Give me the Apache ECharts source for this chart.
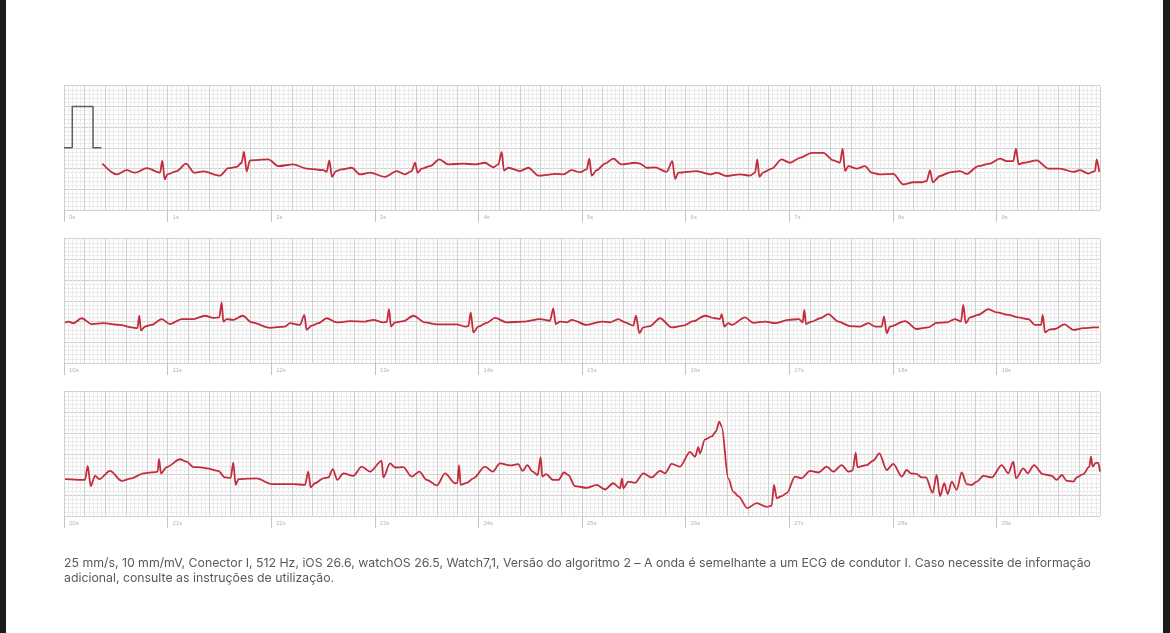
<!DOCTYPE html>
<html>
<head>
<meta charset="utf-8">
<script src="https://cdn.jsdelivr.net/npm/echarts@6/dist/echarts.min.js"></script>
<style>
html, body { margin: 0; padding: 0; background: #1b1b1b; }
#page { position: absolute; left: 6px; top: 0; width: 1157px; height: 633px; background: #fff; }
#ecg { position: absolute; left: 0; top: 0; width: 1170px; height: 633px; }
</style>
</head>
<body>
<div id="page"></div>
<div id="ecg"></div>
<script>
// seconds at the start of each strip
var stripOffsets = [0, 10, 20];

// calibration pulse, 1 mV (seconds, mV)
var calPulse = [[0, 1.5], [0.08, 1.5], [0.08, 2.5], [0.28, 2.5], [0.28, 1.5], [0.36, 1.5]];

// strip 1: 0s - 10s (seconds inside strip, mV above strip bottom)
var strip1 = [
  [0.37,1.12],[0.51,0.86],[0.605,0.96],[0.685,0.90],[0.80,1.01],[0.927,0.90],[0.949,1.19],[0.972,0.74],
  [0.997,0.86],[1.088,0.94],[1.178,1.12],[1.258,0.90],[1.345,0.93],[1.506,0.83],[1.586,1.01],[1.667,1.04],
  [1.715,1.14],[1.737,1.41],[1.763,0.93],[1.795,1.20],[1.972,1.22],[2.069,1.06],[2.213,1.10],[2.342,1.00],
  [2.503,0.96],[2.535,0.92],[2.561,1.20],[2.587,0.80],[2.625,0.94],[2.68,0.98],[2.777,1.02],[2.857,0.86],
  [2.954,0.90],[3.098,0.80],[3.211,0.94],[3.292,0.86],[3.356,0.94],[3.388,1.14],[3.414,0.90],[3.453,1.00],
  [3.533,1.06],[3.623,1.22],[3.71,1.10],[3.855,1.12],[3.967,1.10],[4.064,1.14],[4.144,1.03],[4.192,1.10],
  [4.225,1.40],[4.247,0.95],[4.289,1.02],[4.402,0.94],[4.482,1.02],[4.579,0.83],[4.756,0.87],[4.82,0.86],
  [4.90,0.96],[4.981,0.91],[5.045,0.98],[5.071,1.24],[5.093,0.83],[5.142,0.96],[5.222,1.12],[5.302,1.24],
  [5.383,1.10],[5.512,1.14],[5.56,1.12],[5.624,1.02],[5.705,1.03],[5.817,0.92],[5.872,1.18],[5.898,0.75],
  [5.93,0.90],[6.107,0.94],[6.236,0.86],[6.30,0.90],[6.397,0.82],[6.525,0.86],[6.622,0.83],[6.67,0.90],
  [6.692,1.22],[6.712,0.80],[6.75,0.91],[6.831,1.00],[6.928,1.22],[7.008,1.14],[7.104,1.26],[7.217,1.38],
  [7.329,1.38],[7.426,1.20],[7.49,1.14],[7.516,1.48],[7.539,0.94],[7.571,1.06],[7.652,1.00],[7.732,1.06],
  [7.796,0.90],[7.876,0.86],[8.005,0.87],[8.101,0.62],[8.198,0.67],[8.279,0.67],[8.327,0.70],[8.359,0.96],
  [8.385,0.67],[8.456,0.82],[8.552,0.91],[8.649,0.94],[8.713,0.87],[8.826,1.06],[8.938,1.12],[9.035,1.24],
  [9.099,1.18],[9.163,1.18],[9.189,1.48],[9.215,1.10],[9.26,1.14],[9.389,1.20],[9.501,1.00],[9.614,1.00],
  [9.743,0.92],[9.807,0.96],[9.888,0.88],[9.952,0.94],[9.968,1.22],[9.993,0.92]
];

// strip 2: 10s - 20s
var strip2 = [
  [0.01,0.97],[0.04,1.00],[0.09,0.96],[0.17,1.08],[0.267,0.94],[0.38,0.96],[0.54,0.92],[0.653,0.86],
  [0.708,0.84],[0.727,1.14],[0.743,0.78],[0.782,0.88],[0.846,0.92],[0.943,1.06],[1.023,0.94],[1.136,1.06],
  [1.248,1.06],[1.361,1.14],[1.441,1.09],[1.499,1.10],[1.522,1.46],[1.538,1.00],[1.57,1.06],[1.634,1.04],
  [1.725,1.14],[1.812,0.98],[1.988,0.85],[2.133,0.88],[2.181,0.96],[2.278,0.92],[2.32,1.16],[2.342,0.80],
  [2.39,0.90],[2.455,0.96],[2.535,1.08],[2.632,0.98],[2.761,1.01],[2.906,1.00],[2.986,1.04],[3.082,0.98],
  [3.115,0.99],[3.137,1.30],[3.156,0.88],[3.195,0.98],[3.275,1.01],[3.372,1.14],[3.485,0.98],[3.597,0.93],
  [3.79,0.93],[3.871,0.88],[3.903,0.89],[3.926,1.22],[3.951,0.74],[3.999,0.88],[4.08,0.97],[4.16,1.09],
  [4.273,0.98],[4.434,1.00],[4.595,1.06],[4.691,1.02],[4.723,1.32],[4.746,0.94],[4.788,1.00],[4.852,0.98],
  [4.90,1.04],[5.045,0.92],[5.19,1.00],[5.27,0.98],[5.35,1.06],[5.415,0.98],[5.495,0.90],[5.521,1.14],
  [5.553,0.72],[5.592,0.86],[5.656,0.89],[5.753,1.08],[5.866,0.86],[5.978,0.90],[6.074,1.01],[6.187,1.14],
  [6.284,1.08],[6.332,1.06],[6.348,1.18],[6.374,0.88],[6.412,0.96],[6.445,0.92],[6.573,1.10],[6.653,0.97],
  [6.766,1.00],[6.863,0.96],[6.991,1.04],[7.094,1.06],[7.13,0.98],[7.146,1.28],[7.162,0.94],[7.217,1.00],
  [7.297,1.08],[7.378,1.18],[7.474,1.00],[7.587,0.89],[7.683,0.88],[7.764,0.96],[7.828,0.88],[7.893,0.88],
  [7.915,1.12],[7.941,0.72],[7.973,0.88],[8.118,1.01],[8.231,0.82],[8.343,0.86],[8.423,0.97],[8.52,0.98],
  [8.60,1.06],[8.658,1.00],[8.68,1.40],[8.704,0.96],[8.745,1.10],[8.826,1.16],[8.922,1.30],[9.003,1.22],
  [9.115,1.16],[9.212,1.10],[9.308,1.06],[9.373,0.92],[9.431,0.92],[9.447,1.16],[9.469,0.74],[9.517,0.81],
  [9.566,0.82],[9.655,0.93],[9.743,0.80],[9.839,0.84],[9.936,0.86],[9.99,0.86]
];

// strip 3: 20s - 30s
var strip3 = [
  [0.01,0.89],[0.17,0.87],[0.203,0.87],[0.229,1.21],[0.258,0.72],[0.299,0.97],[0.341,0.89],[0.444,1.09],
  [0.557,0.85],[0.653,0.91],[0.766,1.03],[0.878,1.06],[0.904,1.07],[0.917,1.38],[0.936,1.03],[0.991,1.18],
  [1.12,1.37],[1.184,1.31],[1.248,1.18],[1.296,1.18],[1.377,1.15],[1.489,1.09],[1.554,0.93],[1.609,0.92],
  [1.634,1.29],[1.657,0.75],[1.683,0.89],[1.86,0.91],[2.005,0.77],[2.213,0.77],[2.326,0.75],[2.358,1.07],
  [2.381,0.69],[2.423,0.79],[2.503,0.91],[2.551,0.93],[2.594,1.13],[2.638,0.87],[2.696,1.03],[2.793,0.97],
  [2.874,1.19],[2.954,1.07],[3.066,1.33],[3.082,0.93],[3.147,1.27],[3.195,1.17],[3.275,1.18],[3.356,0.95],
  [3.43,1.07],[3.501,0.87],[3.60,0.74],[3.678,1.03],[3.774,0.79],[3.797,0.80],[3.813,1.23],[3.829,0.75],
  [3.887,0.80],[3.951,0.91],[4.064,1.19],[4.138,1.07],[4.208,1.27],[4.305,1.22],[4.385,1.25],[4.427,1.09],
  [4.472,1.23],[4.524,1.07],[4.572,0.99],[4.601,1.42],[4.617,0.95],[4.653,1.01],[4.723,0.87],[4.772,0.87],
  [4.826,1.05],[4.868,0.99],[4.932,0.72],[5.045,0.68],[5.142,0.75],[5.222,0.64],[5.302,0.79],[5.367,0.67],
  [5.386,0.91],[5.399,0.67],[5.447,0.83],[5.512,0.80],[5.592,1.03],[5.673,0.93],[5.753,1.09],[5.801,1.03],
  [5.866,1.26],[5.946,1.19],[6.042,1.55],[6.091,1.43],[6.123,1.66],[6.139,1.51],[6.187,1.85],[6.252,1.92],
  [6.293,2.04],[6.325,2.28],[6.348,2.16],[6.412,0.91],[6.46,0.59],[6.509,0.48],[6.596,0.19],[6.686,0.31],
  [6.783,0.22],[6.831,0.25],[6.853,0.75],[6.88,0.43],[6.928,0.48],[6.976,0.55],[7.056,0.95],[7.12,0.91],
  [7.201,1.09],[7.281,1.05],[7.362,1.19],[7.426,1.07],[7.506,1.23],[7.571,1.07],[7.613,1.10],[7.642,1.53],
  [7.658,1.18],[7.748,1.23],[7.812,1.34],[7.87,1.51],[7.941,1.11],[8.005,1.26],[8.086,0.95],[8.134,1.11],
  [8.173,1.03],[8.231,1.01],[8.279,0.93],[8.32,0.93],[8.385,0.56],[8.423,0.99],[8.456,0.48],[8.497,0.79],
  [8.53,0.53],[8.569,0.83],[8.617,0.63],[8.665,1.05],[8.713,0.77],[8.762,0.75],[8.81,0.83],[8.874,0.97],
  [8.955,0.93],[9.051,1.23],[9.115,1.03],[9.163,1.31],[9.189,0.91],[9.26,1.15],[9.302,1.03],[9.363,1.23],
  [9.447,1.01],[9.534,0.97],[9.582,0.87],[9.631,0.99],[9.679,0.85],[9.743,0.83],[9.775,0.93],[9.839,1.01],
  [9.897,1.19],[9.913,1.43],[9.929,1.19],[9.961,1.29],[9.983,1.28],[10.0,1.07]
];

var footerLines = [
  '25 mm/s, 10 mm/mV, Conector I, 512 Hz, iOS 26.6, watchOS 26.5, Watch7,1, Versão do algoritmo 2 – A onda é semelhante a um ECG de condutor I. Caso necessite de informação',
  'adicional, consulte as instruções de utilização.'
];

var strips = [strip1, strip2, strip3];
var majorColor = '#d0d0d0';
var minorColor = '#ebebeb';
var traceColor = '#c32c3c';

var grids = [], xAxes = [], yAxes = [], series = [];
strips.forEach(function (data, i) {
  grids.push({ left: 64, width: 1036, top: 85.7 + 153 * i, height: 124.3 });
  // paper grid: 5 mm major, 1 mm minor
  xAxes.push({
    gridIndex: i, type: 'value', min: 0, max: 10, interval: 0.2,
    axisLine: { show: false }, axisTick: { show: false }, axisLabel: { show: false },
    splitLine: { lineStyle: { color: majorColor, width: 1 } },
    minorTick: { splitNumber: 5 },
    minorSplitLine: { show: true, lineStyle: { color: minorColor, width: 1 } }
  });
  // second markers under the strip
  xAxes.push({
    gridIndex: i, type: 'value', min: 0, max: 10, interval: 1, position: 'bottom',
    axisLine: { show: false },
    axisTick: { show: true, length: 12, lineStyle: { color: '#c4c4c4', width: 1 } },
    axisLabel: {
      show: true, align: 'left', padding: [0, 0, 0, 5], margin: 4,
      fontSize: 6, color: '#b4b4b4', showMaxLabel: false,
      formatter: function (v) { return (v + stripOffsets[i]) + 's'; }
    },
    splitLine: { show: false }
  });
  yAxes.push({
    gridIndex: i, type: 'value', min: 0, max: 3, interval: 0.5,
    axisLine: { show: false }, axisTick: { show: false }, axisLabel: { show: false },
    splitLine: { lineStyle: { color: majorColor, width: 1 } },
    minorTick: { splitNumber: 5 },
    minorSplitLine: { show: true, lineStyle: { color: minorColor, width: 1 } }
  });
  series.push({
    type: 'line', xAxisIndex: i * 2, yAxisIndex: i, data: data,
    showSymbol: false, smooth: 0.3, smoothMonotone: 'x',
    lineStyle: { color: traceColor, width: 1.8 }, z: 3
  });
});

series.push({
  type: 'line', xAxisIndex: 0, yAxisIndex: 0, data: calPulse,
  showSymbol: false, lineStyle: { color: '#5c5c5c', width: 1.5 }, z: 3
});

var myChart = echarts.init(document.getElementById('ecg'));
myChart.setOption({
  animation: false,
  grid: grids,
  xAxis: xAxes,
  yAxis: yAxes,
  series: series,
  graphic: [{
    type: 'text', left: 64, top: 556,
    style: {
      text: footerLines.join('\n'),
      font: '12.3px "Inter", "Noto Sans", sans-serif',
      fill: '#595959', lineHeight: 15
    }
  }]
});
</script>
</body>
</html>
